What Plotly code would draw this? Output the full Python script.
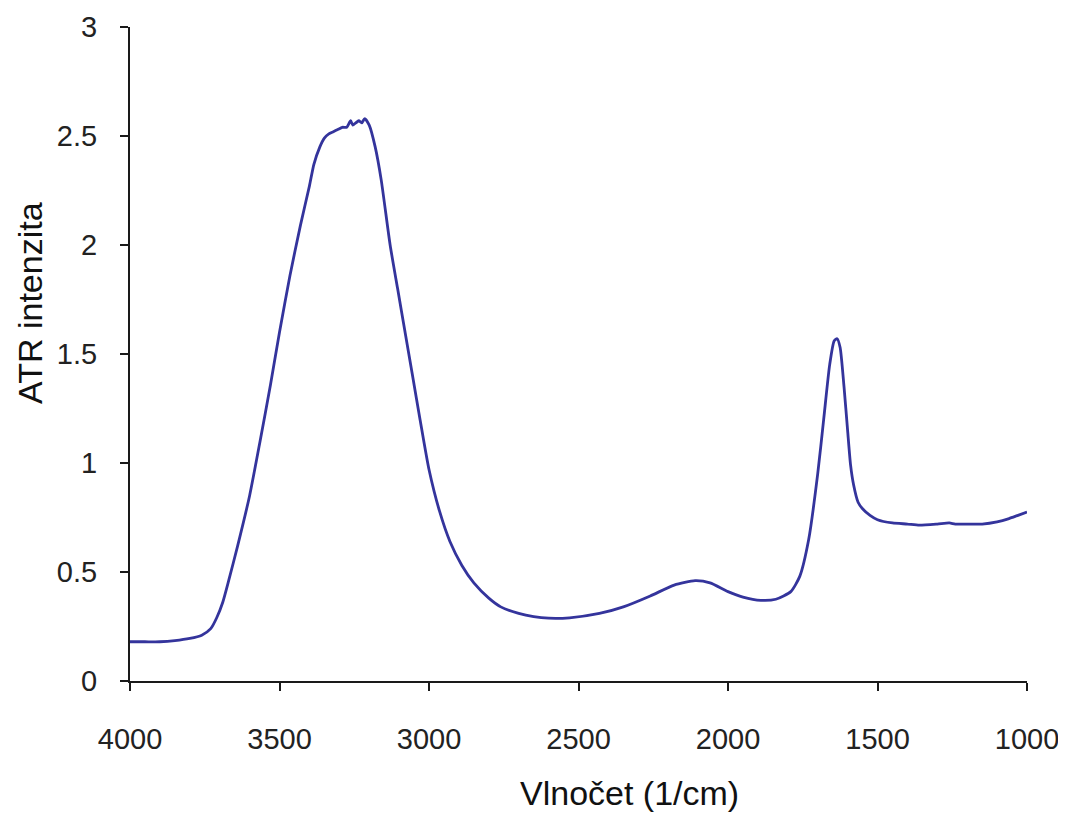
import plotly.graph_objects as go

wavenumber = [4000, 3950, 3900, 3850, 3800, 3760, 3730, 3710, 3690, 3670, 3640, 3600, 3565, 3530,
              3500, 3465, 3430, 3400, 3385, 3365, 3350, 3335, 3320, 3305, 3290, 3275, 3262, 3255,
              3245, 3235, 3225, 3215, 3200, 3180, 3160, 3130, 3105, 3080, 3055, 3030, 3000, 2965,
              2930, 2890, 2850, 2800, 2760, 2700, 2650, 2600, 2530, 2430, 2350, 2260, 2180, 2110,
              2060, 2000, 1950, 1890, 1840, 1790, 1760, 1730, 1700, 1680, 1660, 1645, 1635, 1625,
              1612, 1600, 1590, 1580, 1565, 1550, 1525, 1500, 1450, 1400, 1360, 1300, 1260, 1240,
              1200, 1150, 1100, 1060, 1030, 1000]
intensity = [0.18, 0.18, 0.18, 0.185, 0.195, 0.21, 0.24, 0.29, 0.36, 0.46, 0.62, 0.85, 1.1, 1.36,
             1.6, 1.86, 2.09, 2.27, 2.37, 2.45, 2.49, 2.51, 2.52, 2.53, 2.54, 2.54, 2.57, 2.55,
             2.56, 2.57, 2.56, 2.58, 2.55, 2.45, 2.3, 2.0, 1.8, 1.6, 1.4, 1.2, 0.97, 0.78,
             0.64, 0.53, 0.45, 0.38, 0.34, 0.31, 0.295, 0.288, 0.29, 0.31, 0.34, 0.39, 0.44, 0.46,
             0.45, 0.41, 0.385, 0.37, 0.375, 0.41, 0.48, 0.65, 0.95, 1.2, 1.45, 1.56, 1.57, 1.53,
             1.35, 1.15, 0.99, 0.9, 0.82, 0.79, 0.76, 0.74, 0.725, 0.72, 0.715, 0.72, 0.725, 0.72,
             0.72, 0.72, 0.73, 0.745, 0.76, 0.775]

x_ticks = [4000, 3500, 3000, 2500, 2000, 1500, 1000]
y_ticks = [0, 0.5, 1, 1.5, 2, 2.5, 3]
y_tick_labels = ["0", "0.5", "1", "1.5", "2", "2.5", "3"]

FONT = "Liberation Sans, Arial, sans-serif"

fig = go.Figure()
fig.add_trace(go.Scatter(
    x=wavenumber, y=intensity, mode="lines",
    line=dict(color="#34349c", width=2.8, shape="spline", smoothing=0.6),
    showlegend=False, hoverinfo="skip"))

axis_common = dict(
    showgrid=False, zeroline=False, showline=True, linecolor="#1a1a1a", linewidth=2,
    ticks="outside", ticklen=8, tickwidth=2, tickcolor="#1a1a1a", automargin=False,
    tickfont=dict(family=FONT, size=29, color="#222222"),
)

fig.update_layout(
    width=1058, height=806,
    paper_bgcolor="white", plot_bgcolor="white",
    margin=dict(l=122, r=39, t=19, b=133),
    font=dict(family=FONT),
    xaxis=dict(range=[4000, 1000], tickvals=x_ticks, ticktext=[str(v) for v in x_ticks],
               ticklabelstandoff=23, **axis_common),
    yaxis=dict(range=[0, 3], tickvals=y_ticks, ticktext=y_tick_labels,
               ticklabelstandoff=17, **axis_common),
    annotations=[
        dict(text="Vlnočet (1/cm)", xref="paper", yref="paper", x=0.557, y=0,
             yshift=-112, showarrow=False, xanchor="center", yanchor="middle",
             font=dict(family=FONT, size=34, color="#111111")),
        dict(text="ATR intenzita", xref="paper", yref="paper", x=0, y=0.578,
             xshift=-100, showarrow=False, xanchor="center", yanchor="middle", textangle=-90,
             font=dict(family=FONT, size=34, color="#111111")),
    ],
)

fig.write_html("out.html")
